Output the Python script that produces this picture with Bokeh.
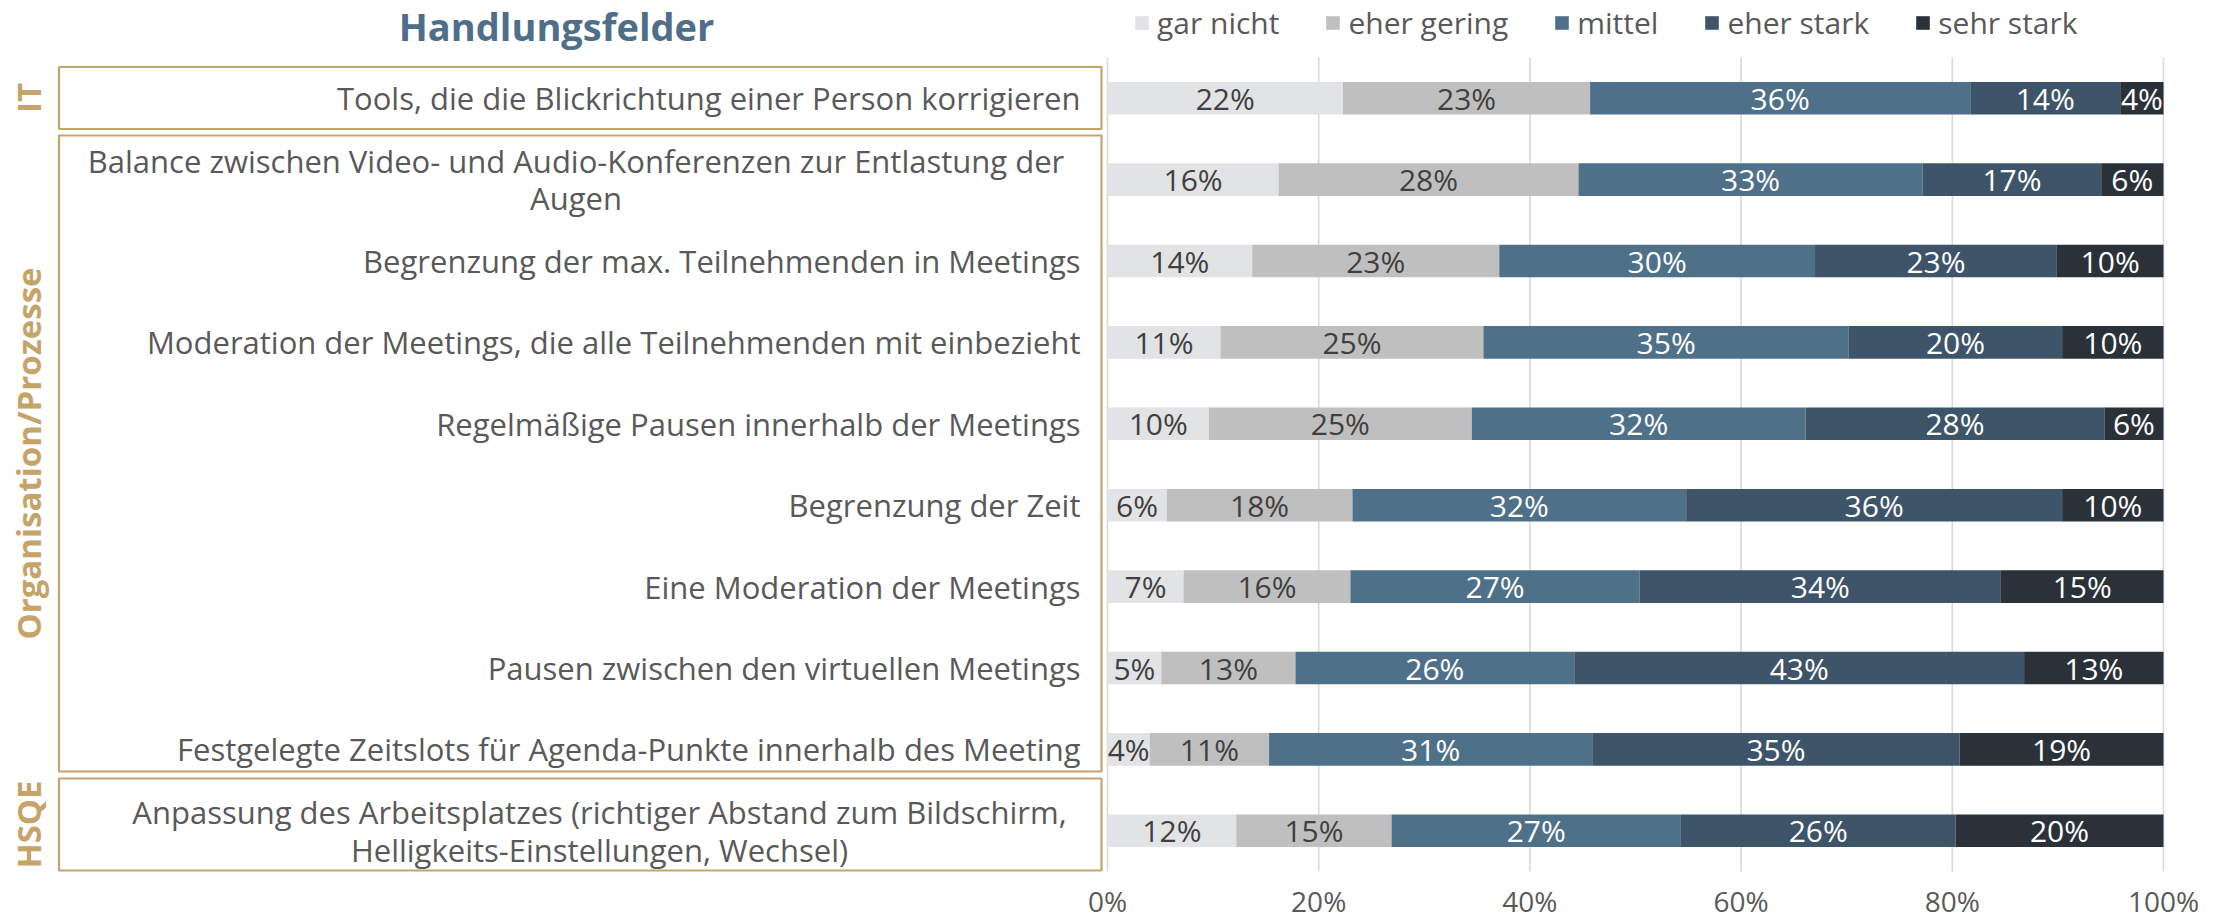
import math
import pandas as pd
from bokeh.plotting import figure
from bokeh.models import (ColumnDataSource, Range1d, LinearAxis, FixedTicker,
                          CustomJSTickFormatter, Label)
from bokeh.core.properties import value, field
from bokeh.embed import file_html
from bokeh.resources import INLINE

# ---------------- data ----------------
categories = [
    "Tools, die die Blickrichtung einer Person korrigieren",
    "Balance zwischen Video- und Audio-Konferenzen zur Entlastung der\nAugen",
    "Begrenzung der max. Teilnehmenden in Meetings",
    "Moderation der Meetings, die alle Teilnehmenden mit einbezieht",
    "Regelmäßige Pausen innerhalb der Meetings",
    "Begrenzung der Zeit",
    "Eine Moderation der Meetings",
    "Pausen zwischen den virtuellen Meetings",
    "Festgelegte Zeitslots für Agenda-Punkte innerhalb des Meeting",
    "Anpassung des Arbeitsplatzes (richtiger Abstand zum Bildschirm,\nHelligkeits-Einstellungen, Wechsel)",
]
series_names = ["gar nicht", "eher gering", "mittel", "eher stark", "sehr stark"]
gar_nicht   = [22.3, 16.2, 13.7, 10.7,  9.6,  5.6,  7.2,  5.1,  4.0, 12.2]
eher_gering = [23.4, 28.4, 23.4, 24.9, 24.9, 17.6, 15.8, 12.7, 11.3, 14.7]
mittel      = [36.0, 32.6, 29.9, 34.6, 31.6, 31.6, 27.4, 26.4, 30.6, 27.4]
eher_stark  = [14.2, 16.9, 22.9, 20.2, 28.3, 35.6, 34.2, 42.6, 34.8, 26.0]
sehr_stark  = [ 4.1,  5.9, 10.1,  9.6,  5.6,  9.6, 15.4, 13.2, 19.3, 19.7]

groups = ["IT", "Organisation/Prozesse", "HSQE"]

ticks = [0, 20, 40, 60, 80, 100]
title_text = "Handlungsfelder"

# ---------------- styles ----------------
colors = ["#e2e3e5", "#bfbfbf", "#4f7089", "#3e5469", "#2b3139"]
label_colors = ["#404040", "#404040", "#ffffff", "#ffffff", "#ffffff"]
GOLD = "#c5a46a"
TXT = "#595959"
FONT = "Open Sans"

W, H = 2224, 923
# pixel layout (figure coordinates)
X0_PX, PX_PER_PCT = 1107.0, 10.56
ROW0_PX, ROW_PX = 97.7, 81.4

def xd(px):
    return (px - X0_PX) / PX_PER_PCT

def yd(px):
    return (px - ROW0_PX) / ROW_PX

keys = ["gar_nicht", "eher_gering", "mittel", "eher_stark", "sehr_stark"]
vals = [gar_nicht, eher_gering, mittel, eher_stark, sehr_stark]
rows = list(range(len(categories)))

df = pd.DataFrame(dict(zip(keys, vals)))
df["y"] = rows
src = ColumnDataSource(df)

p = figure(width=W, height=H, output_backend="svg", toolbar_location=None,
           x_range=Range1d(xd(0), xd(W)), y_range=Range1d(yd(H), yd(0)),
           x_axis_location=None, y_axis_location=None, min_border=0)
p.outline_line_color = None
p.background_fill_color = "white"
for g in p.grid:
    g.visible = False

# grid lines
band_top, band_bottom = rows[0] - 0.5, rows[-1] + 0.5
p.segment(x0=ticks, x1=ticks, y0=[band_top] * len(ticks), y1=[band_bottom] * len(ticks),
          line_color="#d9d9d9", line_width=1.6)

# stacked bars
bars = p.hbar_stack(keys, y="y", height=0.4, color=colors, source=src,
                    line_color=None, legend_label=series_names)

# data labels
recs = []
for i in rows:
    left = 0.0
    for k, v in enumerate([vv[i] for vv in vals]):
        recs.append(dict(x=left + v / 2, y=i, t=f"{round(v):.0f}%", c=label_colors[k]))
        left += v
lab = ColumnDataSource(pd.DataFrame(recs))
p.text(x="x", y="y", text="t", text_color="c", source=lab, text_align="center",
       text_baseline="middle", text_font=value(FONT), text_font_size="30px")

# category labels
right_edge = xd(1080)
cat_align = ["center" if "\n" in c else "right" for c in categories]
wrap_center = {1: xd(575.5), 9: xd(599)}
cat_x = [wrap_center.get(i, right_edge) for i in rows]
cat_src = ColumnDataSource(dict(x=cat_x, y=rows, t=categories, a=cat_align))
p.text(x="x", y="y", text="t", source=cat_src, text_align=field("a"),
       text_baseline="middle", text_font=value(FONT), text_font_size="31px",
       text_color=TXT, text_line_height=0.9)

# group boxes
box_top_px = [66.5, 135.0, 778.0]
box_bottom_px = [128.5, 771.0, 870.0]
p.quad(left=[xd(58.5)] * 3, right=[xd(1101)] * 3,
       top=[yd(v) for v in box_top_px], bottom=[yd(v) for v in box_bottom_px],
       fill_color=None, line_color=GOLD, line_width=2.2)

# group labels (vertical)
gy = [(yd(t) + yd(b)) / 2 for t, b in zip(box_top_px, box_bottom_px)]
p.text(x=[xd(27.5)] * 3, y=gy, text=groups, angle=math.pi / 2,
       text_align="center", text_baseline="middle", text_font=value(FONT),
       text_font_style="bold", text_font_size="33px", text_color=GOLD)

# title
p.add_layout(Label(x=xd(556), y=yd(25), text=title_text, text_align="center",
                   text_baseline="middle", text_font=FONT, text_font_style="bold",
                   text_font_size="38px", text_color="#4e6e8a"))

# x axis
ax = LinearAxis(fixed_location=band_bottom, ticker=FixedTicker(ticks=ticks),
                formatter=CustomJSTickFormatter(code="return tick + '%'"),
                axis_line_color=None, major_tick_line_color=None,
                minor_tick_line_color=None, major_label_standoff=4,
                major_label_text_font=FONT, major_label_text_font_size="28px",
                major_label_text_color=TXT)
p.add_layout(ax, "below")

# legend
lg = p.legend[0]
lg.orientation = "horizontal"
lg.location = (1133, 880)
lg.glyph_width = 17
lg.glyph_height = 17
lg.label_standoff = 7
lg.spacing = 45
lg.padding = 0
lg.margin = 0
lg.border_line_color = None
lg.background_fill_alpha = 0
lg.label_text_font = FONT
lg.label_text_font_size = "30px"
lg.label_text_color = TXT

open("out.html", "w").write(file_html(p, INLINE))
